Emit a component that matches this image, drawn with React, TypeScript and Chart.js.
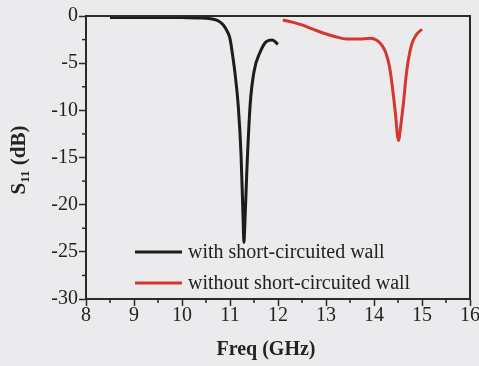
import React, { useEffect, useRef } from "react";
import { Chart, registerables } from "chart.js";

Chart.register(...registerables);

const blackFreq = [8.5, 9.0, 9.5, 10.0, 10.4, 10.6, 10.75, 10.86, 10.95, 11.0, 11.05, 11.1, 11.17, 11.23, 11.27, 11.29, 11.31, 11.35, 11.42, 11.5, 11.63, 11.76, 11.88, 12.0];
const blackS11 = [-0.15, -0.15, -0.15, -0.17, -0.2, -0.3, -0.5, -0.95, -1.7, -2.4, -4.0, -5.9, -9.4, -14.7, -21, -24, -22, -16.5, -9.4, -5.9, -3.8, -2.7, -2.55, -3.0];

const redFreq = [12.1, 12.3, 12.53, 12.75, 12.94, 13.2, 13.43, 13.7, 13.92, 14.05, 14.13, 14.2, 14.26, 14.32, 14.37, 14.44, 14.51, 14.56, 14.61, 14.68, 14.78, 14.88, 15.0];
const redS11 = [-0.42, -0.65, -1.0, -1.45, -1.8, -2.2, -2.44, -2.45, -2.37, -2.55, -2.9, -3.4, -4.1, -5.3, -7.0, -10, -13.2, -11.5, -9.4, -5.9, -3.1, -2.0, -1.4];

const seriesLabels = ["with short-circuited wall", "without short-circuited wall"];
const xTitle = "Freq (GHz)";
const yTitleMain = "S";
const yTitleSub = "11";
const yTitleRest = " (dB)";

const BG = "#ebebed";
const INK = "#222222";
const SERIF = "'Liberation Serif', 'Times New Roman', serif";

const decorPlugin = {
  id: "decor",
  beforeDraw(chart: any) {
    const ctx = chart.ctx;
    ctx.save();
    ctx.fillStyle = BG;
    ctx.fillRect(0, 0, chart.width, chart.height);
    ctx.restore();
  },
  afterDraw(chart: any) {
    const ctx = chart.ctx;
    const { left, right, top, bottom } = chart.chartArea;
    const xs = chart.scales.x;
    const ys = chart.scales.y;
    ctx.save();
    // frame top/right
    ctx.strokeStyle = "#2a2a2a";
    ctx.lineWidth = 2;
    ctx.beginPath();
    ctx.moveTo(left, top);
    ctx.lineTo(right, top);
    ctx.lineTo(right, bottom);
    ctx.stroke();
    // minor ticks
    ctx.lineWidth = 1.5;
    for (let v = 8.5; v < 16; v += 1) {
      const px = xs.getPixelForValue(v);
      ctx.beginPath();
      ctx.moveTo(px, bottom);
      ctx.lineTo(px, bottom + 4);
      ctx.stroke();
    }
    for (let v = -27.5; v < 0; v += 5) {
      const py = ys.getPixelForValue(v);
      ctx.beginPath();
      ctx.moveTo(left, py);
      ctx.lineTo(left - 4, py);
      ctx.stroke();
    }
    // legend
    const ds = chart.data.datasets;
    const legendY = [252, 283];
    ctx.font = `20px ${SERIF}`;
    ctx.textBaseline = "middle";
    ctx.textAlign = "left";
    for (let i = 0; i < ds.length; i++) {
      ctx.strokeStyle = ds[i].borderColor;
      ctx.lineWidth = 3;
      ctx.beginPath();
      ctx.moveTo(135, legendY[i]);
      ctx.lineTo(182, legendY[i]);
      ctx.stroke();
      ctx.fillStyle = INK;
      ctx.fillText(seriesLabels[i], 188, legendY[i] + 1);
    }
    // x title
    ctx.font = `bold 20px ${SERIF}`;
    ctx.textAlign = "center";
    ctx.textBaseline = "alphabetic";
    ctx.fillText(xTitle, 266, 355);
    // y title with subscript
    ctx.translate(25, 160);
    ctx.rotate(-Math.PI / 2);
    const mainFont = `bold 21px ${SERIF}`;
    const subFont = `bold 13px ${SERIF}`;
    ctx.font = mainFont;
    const wS = ctx.measureText(yTitleMain).width;
    const wR = ctx.measureText(yTitleRest).width;
    ctx.font = subFont;
    const wSub = ctx.measureText(yTitleSub).width;
    let x0 = -(wS + wSub + wR) / 2;
    ctx.textAlign = "left";
    ctx.font = mainFont;
    ctx.fillText(yTitleMain, x0, 0);
    x0 += wS;
    ctx.font = subFont;
    ctx.fillText(yTitleSub, x0, 4);
    x0 += wSub;
    ctx.font = mainFont;
    ctx.fillText(yTitleRest, x0, 0);
    ctx.restore();
  },
};

export default function App() {
  const ref = useRef<HTMLCanvasElement | null>(null);
  useEffect(() => {
    document.body.style.margin = "0";
    document.body.style.background = BG;
    const canvas = ref.current;
    if (!canvas) return;
    const chart = new Chart(canvas, {
      type: "line",
      data: {
        datasets: [
          {
            label: seriesLabels[0],
            data: blackFreq.map((f, i) => ({ x: f, y: blackS11[i] })),
            borderColor: "#1c1c1c",
            borderWidth: 3,
            pointRadius: 0,
            cubicInterpolationMode: "monotone",
            fill: false,
          },
          {
            label: seriesLabels[1],
            data: redFreq.map((f, i) => ({ x: f, y: redS11[i] })),
            borderColor: "#d5372f",
            borderWidth: 3,
            pointRadius: 0,
            cubicInterpolationMode: "monotone",
            fill: false,
          },
        ],
      },
      options: {
        animation: false,
        responsive: false,
        devicePixelRatio: 1,
        layout: { padding: { left: 0, top: 16, right: 9, bottom: 0 } },
        plugins: { legend: { display: false }, tooltip: { enabled: false } },
        scales: {
          x: {
            type: "linear",
            min: 8,
            max: 16,
            afterFit: (s: any) => {
              s.height = 67;
            },
            ticks: {
              stepSize: 1,
              font: { family: SERIF, size: 20 },
              color: INK,
              padding: -2,
              maxRotation: 0,
            },
            grid: {
              drawOnChartArea: false,
              drawTicks: true,
              tickLength: 7,
              tickColor: "#2a2a2a",
              tickWidth: 1.5,
            },
            border: { display: true, color: "#2a2a2a", width: 2 },
          },
          y: {
            type: "linear",
            min: -30,
            max: 0,
            afterFit: (s: any) => {
              s.width = 86;
            },
            ticks: {
              stepSize: 5,
              font: { family: SERIF, size: 20 },
              color: INK,
              padding: 1,
            },
            grid: {
              drawOnChartArea: false,
              drawTicks: true,
              tickLength: 7,
              tickColor: "#2a2a2a",
              tickWidth: 1.5,
            },
            border: { display: true, color: "#2a2a2a", width: 2 },
          },
        },
      },
      plugins: [decorPlugin],
    } as any);
    return () => chart.destroy();
  }, []);
  return <canvas ref={ref} width={479} height={366} style={{ display: "block" }} />;
}
